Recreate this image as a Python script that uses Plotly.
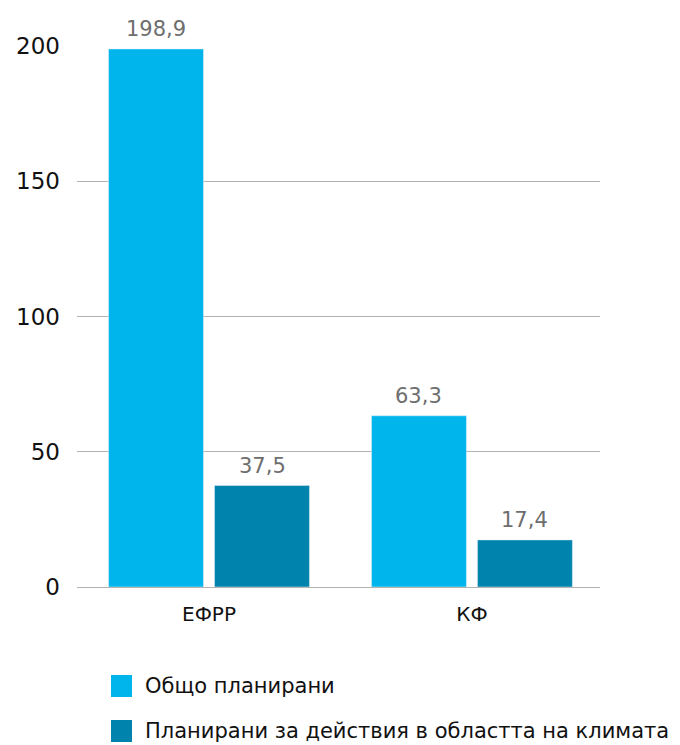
import plotly.graph_objects as go

# Data
funds = ["ЕФРР", "КФ"]
series_names = ["Общо планирани", "Планирани за действия в областта на климата"]
total_planned = [198.9, 63.3]
climate_planned = [37.5, 17.4]
y_ticks = [0, 50, 100, 150, 200]

COLORS = {
    "total": "#00B5EC",
    "climate": "#0084AD",
    "grid": "#B3B3B3",
    "label": "#6E6E6E",
    "text": "#111111",
}
FONT = "DejaVu Sans"

fig = go.Figure()
for name, values, color in [(series_names[0], total_planned, COLORS["total"]),
                            (series_names[1], climate_planned, COLORS["climate"])]:
    fig.add_trace(go.Bar(x=funds, y=values, name=name, marker_color=color,
                         showlegend=False))

# value labels above each bar (bars sit ~53px left/right of the category centre)
for values, shift in [(total_planned, -53), (climate_planned, 53)]:
    for fund, v in zip(funds, values):
        fig.add_annotation(x=fund, y=v, text=f"{v:.1f}".replace(".", ","),
                           showarrow=False, xshift=shift, yshift=6,
                           yanchor="bottom",
                           font=dict(family=FONT, size=21, color=COLORS["label"]))

# legend drawn below the plot with large square swatches
for i, (name, color) in enumerate([(series_names[0], COLORS["total"]),
                                   (series_names[1], COLORS["climate"])]):
    top = -88 - 45 * i
    fig.add_shape(type="rect", xref="paper", yref="paper",
                  xsizemode="pixel", ysizemode="pixel", xanchor=0, yanchor=0,
                  x0=34, x1=55, y0=top - 22, y1=top,
                  fillcolor=color, line_width=0)
    fig.add_annotation(xref="paper", yref="paper", x=0, y=0,
                       xshift=66, yshift=top - 11, xanchor="left", yanchor="middle",
                       text=name, showarrow=False,
                       font=dict(family=FONT, size=21, color=COLORS["text"]))

# page body adds an 8px offset, so margins are shifted to compensate
fig.update_layout(
    width=680, height=745,
    plot_bgcolor="white", paper_bgcolor="white",
    font=dict(family=FONT, size=21, color=COLORS["text"]),
    margin=dict(l=69, r=88, t=38, b=166),
    barmode="group", bargap=0.194, bargroupgap=0.104,
    showlegend=False,
)
fig.update_xaxes(range=[-0.502, 1.487], showgrid=False, showline=False,
                 ticks="", tickfont=dict(size=20), ticklabelstandoff=13,
                 automargin=False)
fig.update_yaxes(range=[0, 200], tickvals=y_ticks, showgrid=True,
                 gridcolor=COLORS["grid"], gridwidth=1,
                 zeroline=True, zerolinecolor=COLORS["grid"], zerolinewidth=1,
                 ticks="", tickfont=dict(size=23), ticklabelstandoff=16,
                 automargin=False)

fig.write_html("out.html")
